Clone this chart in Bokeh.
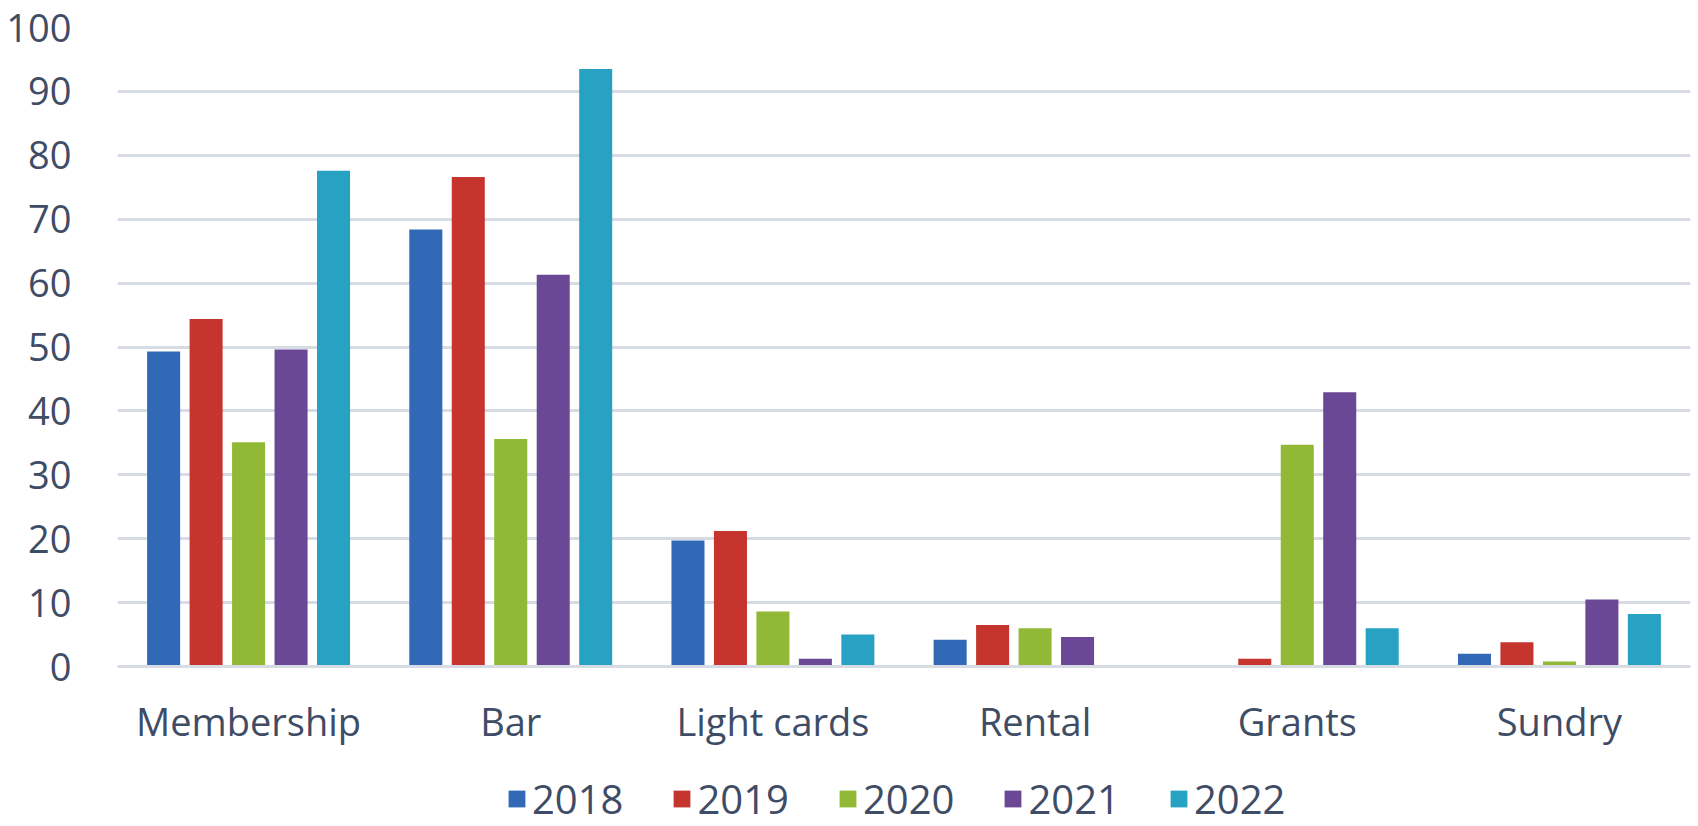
from bokeh.plotting import figure
from bokeh.layouts import column
from bokeh.models import FactorRange, Range1d, SingleIntervalTicker, Legend, LegendItem, ColumnDataSource
from bokeh.transform import dodge
from bokeh.embed import file_html
from bokeh.resources import INLINE

categories = ["Membership", "Bar", "Light cards", "Rental", "Grants", "Sundry"]
years = ["2018", "2019", "2020", "2021", "2022"]
v2018 = [49.3, 68.4, 19.7, 4.2, 0.0, 2.0]
v2019 = [54.4, 76.6, 21.2, 6.5, 1.2, 3.8]
v2020 = [35.1, 35.6, 8.6, 6.0, 34.7, 0.8]
v2021 = [49.6, 61.3, 1.2, 4.6, 42.9, 10.5]
v2022 = [77.6, 93.5, 5.0, 0.0, 6.0, 8.2]
series = [v2018, v2019, v2020, v2021, v2022]
colors = ["#3169b6", "#c6342e", "#91b935", "#6b4896", "#27a2c3"]

FONT = "Open Sans"
TEXT = "#3f4c66"
GRID = "#d6dbe4"

src = ColumnDataSource(dict(cat=categories, **{y: s for y, s in zip(years, series)}))

p = figure(frame_width=1573, frame_height=639, x_range=FactorRange(factors=categories),
           y_range=Range1d(0, 100), output_backend="svg", toolbar_location=None,
           min_border_left=117, min_border_right=8, min_border_top=27, min_border_bottom=90)
p.outline_line_color = None
p.background_fill_color = "white"
p.border_fill_color = "white"

step = 0.162
width = 0.126
for i, (yr, col) in enumerate(zip(years, colors)):
    p.vbar(x=dodge("cat", (i - 2) * step, range=p.x_range), top=yr, width=width,
           source=src, fill_color=col, line_color=None)

p.yaxis.ticker = SingleIntervalTicker(interval=10)
p.xgrid.grid_line_color = None
p.ygrid.grid_line_color = GRID
p.ygrid.grid_line_width = 3

for ax in (p.xaxis, p.yaxis):
    ax.major_tick_line_color = None
    ax.minor_tick_line_color = None
    ax.major_label_text_font = FONT
    ax.major_label_text_font_size = "38px"
    ax.major_label_text_color = TEXT
p.yaxis.axis_line_color = None
p.yaxis.major_label_standoff = 40
p.xaxis.axis_line_color = GRID
p.xaxis.axis_line_width = 3
p.xaxis.major_label_standoff = 22

# legend strip below the chart (zero-height swatch renderers, only used for the legend)
lf = figure(width=1698, height=70, x_range=Range1d(0, 1), y_range=Range1d(0, 1),
            output_backend="svg", toolbar_location=None,
            x_axis_location=None, y_axis_location=None,
            min_border_left=0, min_border_right=0, min_border_top=0, min_border_bottom=0)
lf.outline_line_color = None
lf.xgrid.grid_line_color = None
lf.ygrid.grid_line_color = None
leg_src = ColumnDataSource(dict(x=[0.5], zero=[0.0]))
leg_renderers = []
for yr, col in zip(years, colors):
    r = lf.vbar(x="x", top="zero", bottom="zero", width=0.0, source=leg_src,
                fill_color=col, line_color=None)
    leg_renderers.append(r)

legend = Legend(items=[LegendItem(label=y, renderers=[r], index=0) for y, r in zip(years, leg_renderers)],
                orientation="horizontal", location=(389, 0))
legend.label_text_font = FONT
legend.label_text_font_size = "40px"
legend.label_text_color = TEXT
legend.glyph_width = 21
legend.glyph_height = 21
legend.label_standoff = 5
legend.spacing = 48
legend.padding = 0
legend.margin = 0
legend.border_line_color = None
legend.background_fill_alpha = 0
lf.add_layout(legend)

layout = column(p, lf, spacing=0)
open("out.html", "w").write(file_html(layout, INLINE))
